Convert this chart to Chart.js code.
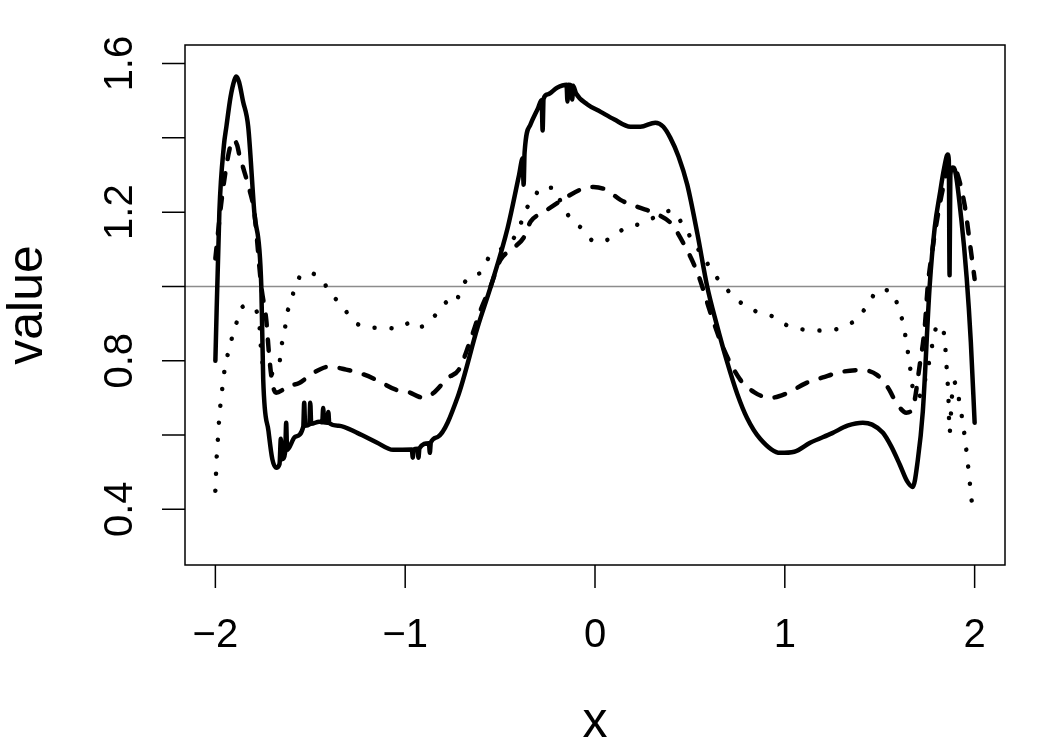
<!DOCTYPE html>
<html>
<head>
<meta charset="utf-8">
<title>value vs x</title>
<script src="https://cdn.jsdelivr.net/npm/chart.js@4/dist/chart.umd.min.js"></script>
<style>
  html, body { margin: 0; padding: 0; background: #ffffff; }
  #caixa { width: 1050px; height: 750px; }
</style>
</head>
<body>
<div id="caixa"><canvas id="grafico" width="1050" height="750"></canvas></div>
<script>
// curva cheia (linha sólida)
const solidX = [-2.00, -1.979, -1.955, -1.942, -1.92, -1.90, -1.89, -1.875, -1.855, -1.827, -1.795, -1.758, -1.748, -1.72, -1.70, -1.68,
  -1.662, -1.655, -1.648, -1.632, -1.627, -1.622, -1.58, -1.537, -1.532, -1.527, -1.505, -1.50, -1.495, -1.453, -1.437, -1.432, -1.427,
  -1.41, -1.405, -1.40, -1.35, -1.25, -1.15, -1.064, -0.965, -0.96, -0.955, -0.935, -0.93, -0.925, -0.875, -0.87, -0.865, -0.828,
  -0.723, -0.618, -0.549, -0.46, -0.40, -0.381, -0.376, -0.371, -0.34, -0.30, -0.281, -0.276, -0.271, -0.25, -0.20, -0.15, -0.145,
  -0.14, -0.125, -0.12, -0.115, -0.10, -0.04, 0.03, 0.10, 0.187, 0.239, 0.318, 0.36, 0.397, 0.44, 0.486, 0.54, 0.591, 0.64, 0.696,
  0.75, 0.801, 0.87, 0.975, 1.05, 1.133, 1.25, 1.33, 1.411, 1.46, 1.517, 1.56, 1.606, 1.645, 1.674, 1.70, 1.727, 1.763, 1.79, 1.816,
  1.84, 1.858, 1.864, 1.868, 1.872, 1.885, 1.895, 1.93, 1.958, 1.98, 2.00];
const solidY = [0.80, 1.20, 1.38, 1.43, 1.51, 1.555, 1.565, 1.55, 1.50, 1.43, 1.20, 1.00, 0.75, 0.61, 0.535, 0.512,
  0.522, 0.59, 0.535, 0.555, 0.633, 0.56, 0.595, 0.622, 0.687, 0.625, 0.628, 0.687, 0.63, 0.636, 0.634, 0.673, 0.634,
  0.633, 0.662, 0.632, 0.625, 0.605, 0.58, 0.56, 0.561, 0.539, 0.561, 0.563, 0.539, 0.564, 0.578, 0.552, 0.58, 0.595,
  0.703, 0.891, 1.00, 1.158, 1.30, 1.345, 1.274, 1.36, 1.436, 1.48, 1.502, 1.42, 1.505, 1.517, 1.535, 1.543, 1.498,
  1.543, 1.541, 1.503, 1.54, 1.52, 1.49, 1.47, 1.45, 1.43, 1.43, 1.441, 1.43, 1.40, 1.35, 1.274, 1.14, 1.00, 0.90, 0.797,
  0.71, 0.646, 0.59, 0.552, 0.555, 0.579, 0.605, 0.625, 0.633, 0.628, 0.606, 0.57, 0.52, 0.475, 0.46, 0.53, 0.663, 1.00, 1.16, 1.247,
  1.32, 1.355, 1.34, 1.03, 1.30, 1.32, 1.315, 1.18, 1.024, 0.85, 0.633];

// curva tracejada
const dashedX = [-2.00, -1.97, -1.94, -1.92, -1.905, -1.885, -1.874, -1.848, -1.82, -1.795, -1.758, -1.732, -1.716, -1.70, -1.68,
  -1.65, -1.627, -1.558, -1.485, -1.40, -1.311, -1.23, -1.154, -1.049, -0.98, -0.928, -0.90, -0.849, -0.775, -0.717, -0.66, -0.60,
  -0.55, -0.50, -0.44, -0.376, -0.34, -0.27, -0.155, -0.07, -0.008, 0.06, 0.134, 0.22, 0.334, 0.40, 0.465, 0.544, 0.607, 0.675,
  0.765, 0.84, 0.922, 1.00, 1.117, 1.20, 1.30, 1.40, 1.485, 1.54, 1.595, 1.64, 1.674, 1.711, 1.737, 1.753, 1.774, 1.816, 1.845,
  1.868, 1.885, 1.905, 1.947, 1.974, 2.00];
const dashedY = [1.075, 1.22, 1.33, 1.38, 1.395, 1.38, 1.355, 1.31, 1.26, 1.20, 1.00, 0.91, 0.81, 0.74, 0.714,
  0.72, 0.73, 0.74, 0.767, 0.784, 0.776, 0.765, 0.749, 0.722, 0.715, 0.703, 0.70, 0.714, 0.754, 0.776, 0.85, 0.94,
  1.00, 1.07, 1.10, 1.131, 1.174, 1.20, 1.239, 1.262, 1.268, 1.26, 1.233, 1.215, 1.193, 1.17, 1.117, 1.031, 0.931, 0.835,
  0.749, 0.715, 0.70, 0.71, 0.741, 0.755, 0.77, 0.775, 0.762, 0.73, 0.681, 0.66, 0.673, 0.789, 0.889, 1.00, 1.086, 1.22, 1.29,
  1.328, 1.325, 1.309, 1.22, 1.12, 1.02];

// curva pontilhada
const dottedX = [-2.00, -1.992, -1.985, -1.979, -1.968, -1.958, -1.942, -1.918, -1.89, -1.853, -1.81, -1.769, -1.762, -1.748, -1.71,
  -1.664, -1.653, -1.636, -1.627, -1.605, -1.58, -1.527, -1.443, -1.396, -1.332, -1.275, -1.19, -1.11, -1.043, -0.96, -0.922,
  -0.86, -0.838, -0.765, -0.735, -0.707, -0.644, -0.602, -0.56, -0.47, -0.407, -0.365, -0.328, -0.286, -0.218, -0.17, -0.118,
  -0.066, 0.00, 0.082, 0.16, 0.244, 0.33, 0.402, 0.465, 0.518, 0.57, 0.623, 0.686, 0.754, 0.838, 0.928, 1.017, 1.112, 1.201,
  1.30, 1.38, 1.438, 1.495, 1.564, 1.60, 1.627, 1.643, 1.658, 1.669, 1.70, 1.74, 1.763, 1.78, 1.805, 1.84, 1.85, 1.862, 1.868,
  1.88, 1.89, 1.932, 1.958, 1.979, 1.99, 2.00];
const dottedY = [0.45, 0.552, 0.60, 0.652, 0.703, 0.752, 0.80, 0.851, 0.90, 0.946, 0.946, 0.902, 0.848, 0.784, 0.765,
  0.787, 0.838, 0.87, 0.918, 0.95, 1.00, 1.037, 1.021, 0.983, 0.948, 0.908, 0.889, 0.889, 0.886, 0.905, 0.891,
  0.913, 0.924, 0.962, 0.956, 0.994, 1.031, 1.037, 1.077, 1.11, 1.147, 1.207, 1.228, 1.266, 1.266, 1.215, 1.177,
  1.155, 1.12, 1.129, 1.158, 1.169, 1.19, 1.204, 1.164, 1.12, 1.08, 1.037, 0.997, 0.962, 0.935, 0.921, 0.894, 0.883, 0.881,
  0.889, 0.913, 0.951, 0.991, 0.986, 0.94, 0.892, 0.84, 0.792, 0.741, 0.70, 0.75, 0.803, 0.851, 0.897, 0.87, 0.80, 0.70, 0.606,
  0.70, 0.744, 0.652, 0.552, 0.45, 0.40, 0.39];

// linha de referência cinza em y = 1
const refX = [-2.16, 2.16];
const refY = [1, 1];

// eixos
const xTicks = [-2, -1, 0, 1, 2];
const xTickLabels = ['\u22122', '\u22121', '0', '1', '2'];
const yTicks = [0.4, 0.6, 0.8, 1.0, 1.2, 1.4, 1.6];
const yTickLabels = ['0.4', '', '0.8', '', '1.2', '', '1.6'];

function pontos(xs, ys) {
  return xs.map((x, i) => ({ x: x, y: ys[i] }));
}

const fonte = '"Liberation Sans", Arial, sans-serif';

// desenha caixa, marcas e textos no estilo do R
const eixosR = {
  id: 'eixosR',
  afterDraw(chart) {
    const ctx = chart.ctx;
    const area = chart.chartArea;
    const sx = chart.scales.x;
    const sy = chart.scales.y;
    ctx.save();
    ctx.strokeStyle = '#000';
    ctx.fillStyle = '#000';
    ctx.lineWidth = 1.5;
    ctx.strokeRect(area.left, area.top, area.right - area.left, area.bottom - area.top);

    // eixo x
    ctx.beginPath();
    xTicks.forEach(t => {
      const px = sx.getPixelForValue(t);
      ctx.moveTo(px, area.bottom);
      ctx.lineTo(px, area.bottom + 23);
    });
    ctx.stroke();
    ctx.font = '40px ' + fonte;
    ctx.textAlign = 'center';
    ctx.textBaseline = 'alphabetic';
    xTicks.forEach((t, i) => {
      ctx.fillText(xTickLabels[i], sx.getPixelForValue(t), 647);
    });

    // eixo y
    ctx.beginPath();
    yTicks.forEach(t => {
      const py = sy.getPixelForValue(t);
      ctx.moveTo(area.left, py);
      ctx.lineTo(area.left - 23, py);
    });
    ctx.stroke();
    yTicks.forEach((t, i) => {
      if (!yTickLabels[i]) return;
      ctx.save();
      ctx.translate(132, sy.getPixelForValue(t));
      ctx.rotate(-Math.PI / 2);
      ctx.fillText(yTickLabels[i], 0, 0);
      ctx.restore();
    });

    // títulos
    ctx.font = '50px ' + fonte;
    ctx.fillText('x', (area.left + area.right) / 2, 737);
    ctx.save();
    ctx.translate(42, (area.top + area.bottom) / 2);
    ctx.rotate(-Math.PI / 2);
    ctx.fillText('value', 0, 0);
    ctx.restore();
    ctx.restore();
  }
};

new Chart(document.getElementById('grafico'), {
  type: 'line',
  data: {
    datasets: [
      {
        data: pontos(refX, refY),
        borderColor: '#8c8c8c',
        borderWidth: 1.5,
        pointRadius: 0,
        order: 10
      },
      {
        data: pontos(dottedX, dottedY),
        borderColor: '#000',
        borderWidth: 4.5,
        borderDash: [0.01, 17],
        borderCapStyle: 'round',
        pointRadius: 0,
        cubicInterpolationMode: 'monotone',
        order: 3
      },
      {
        data: pontos(dashedX, dashedY),
        borderColor: '#000',
        borderWidth: 4.5,
        borderDash: [11, 14],
        borderCapStyle: 'round',
        pointRadius: 0,
        cubicInterpolationMode: 'monotone',
        order: 2
      },
      {
        data: pontos(solidX, solidY),
        borderColor: '#000',
        borderWidth: 4.5,
        borderJoinStyle: 'round',
        borderCapStyle: 'round',
        pointRadius: 0,
        cubicInterpolationMode: 'monotone',
        order: 1
      }
    ]
  },
  options: {
    responsive: false,
    animation: false,
    layout: { padding: { left: 185, right: 45, top: 45, bottom: 185 } },
    scales: {
      x: { type: 'linear', min: -2.16, max: 2.16, display: false },
      y: { type: 'linear', min: 0.25, max: 1.65, display: false }
    },
    plugins: {
      legend: { display: false },
      tooltip: { enabled: false }
    }
  },
  plugins: [eixosR]
});
</script>
</body>
</html>
